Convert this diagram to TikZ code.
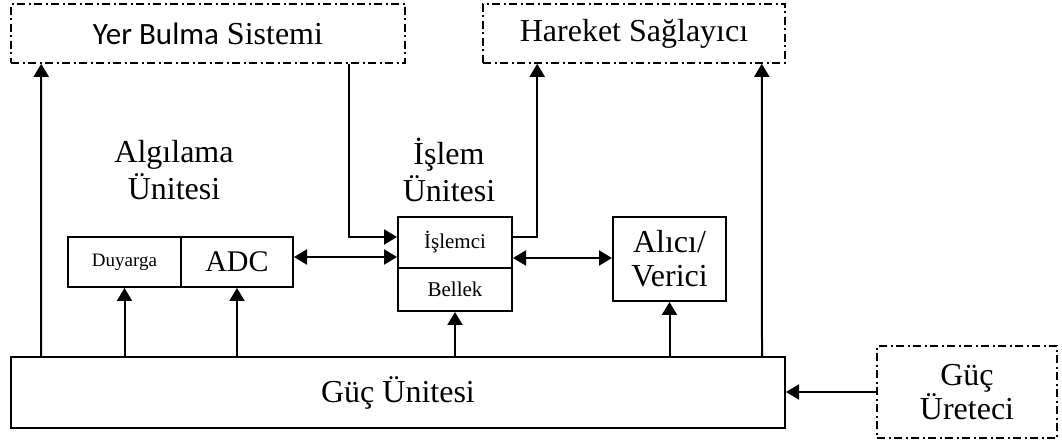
\documentclass[tikz,border=0pt]{standalone}
\usepackage{fontspec}
\setmainfont{Liberation Serif}
\newfontfamily\calibrifont{Carlito}
\usetikzlibrary{arrows.meta}
\begin{document}
\begin{tikzpicture}[x=1pt,y=-1pt,
    box/.style={draw,line width=2pt,inner sep=0pt,align=center,font=\fontsize{32}{34}\selectfont},
    dbox/.style={box,line width=1.6pt,dash pattern=on 8pt off 3.5pt on 2pt off 3.5pt},
    arr/.style={line width=2pt,-{Triangle[length=13pt,width=15pt]}},
    darr/.style={line width=2pt,{Triangle[length=13pt,width=15pt]}-{Triangle[length=13pt,width=15pt]}}]
    \useasboundingbox (0,0) rectangle (1062,443);
    \node[dbox,minimum width=394pt,minimum height=59pt] (yer) at (208,33.5) {{\calibrifont\fontsize{31}{34}\selectfont Yer Bulma} Sistemi};
    \node[dbox,minimum width=302pt,minimum height=59pt] (hareket) at (634,33.5) {Hareket Sağlayıcı};
    \node[font=\fontsize{32}{37}\selectfont,align=center] (algilama) at (174,170) {Algılama\\Ünitesi};
    \node[font=\fontsize{32}{37}\selectfont,align=center] (islem) at (449,170) {İşlem\\Ünitesi};
    \node[box,minimum width=113pt,minimum height=50pt,font=\fontsize{19}{21}\selectfont] (duyarga) at (124.5,262) {Duyarga};
    \node[box,minimum width=112pt,minimum height=50pt,font=\fontsize{30}{32}\selectfont] (adc) at (237,262) {ADC};
    \node[box,minimum width=114pt,minimum height=51pt,font=\fontsize{21}{23}\selectfont] (islemci) at (455,242.5) {İşlemci};
    \node[box,minimum width=114pt,minimum height=43pt,font=\fontsize{21}{23}\selectfont] (bellek) at (455,289.5) {Bellek};
    \node[box,minimum width=113pt,minimum height=84pt] (alici) at (669.5,259) {Alıcı/\\Verici};
    \node[box,minimum width=774pt,minimum height=71pt] (guc) at (398,392.5) {Güç Ünitesi};
    \node[dbox,minimum width=180pt,minimum height=92pt] (uretec) at (967,392) {Güç\\Üreteci};

    \draw[arr] ([xshift=31pt]guc.north west) -- ([xshift=31pt]yer.south west);
    \draw[arr] ([xshift=-24pt]guc.north east) -- ([xshift=-24pt]hareket.south east);
    \foreach \n in {duyarga,adc,bellek,alici}
        \draw[arr] (guc.north -| \n.south) -- (\n.south);
    \draw[arr] ([xshift=-57pt]yer.south east) |- ([yshift=5.5pt]islemci.west);
    \draw[arr] ([yshift=5pt]islemci.east) -| ([xshift=55pt]hareket.south west);
    \draw[darr] ([yshift=5pt]adc.east) -- ([yshift=5pt]adc.east -| islemci.west);
    \draw[darr] ([yshift=1pt]alici.west -| islemci.east) -- ([yshift=1pt]alici.west);
    \draw[arr] (uretec.west) -- (uretec.west -| guc.east);
\end{tikzpicture}
\end{document}
